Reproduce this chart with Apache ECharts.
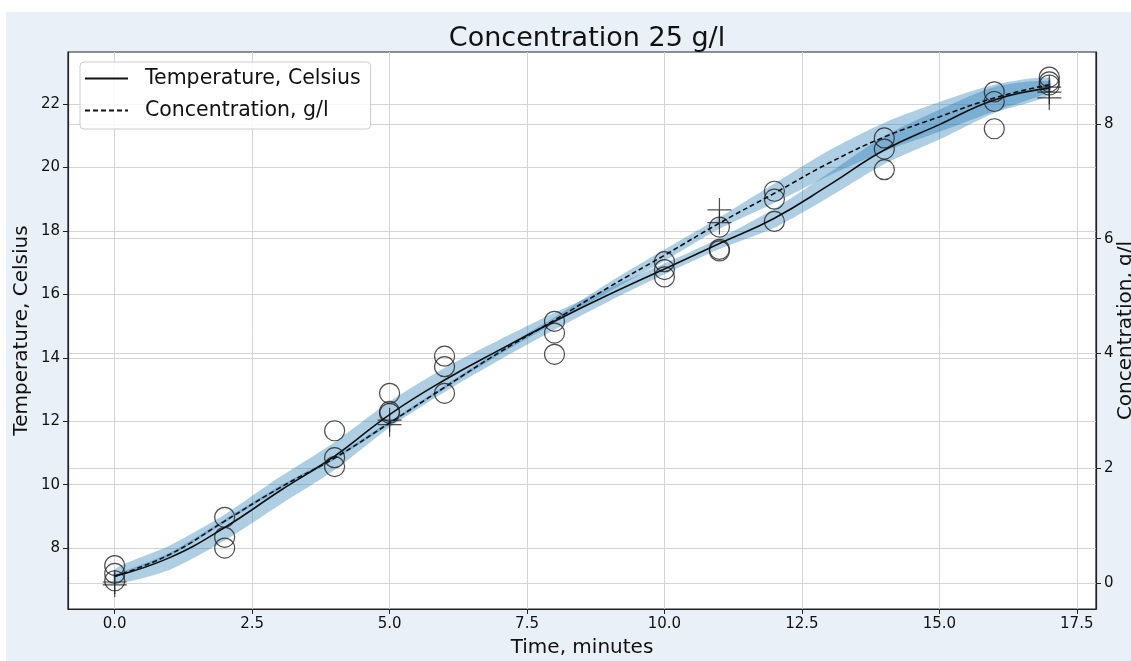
<!DOCTYPE html>
<html>
<head>
<meta charset="utf-8">
<script src="https://cdn.jsdelivr.net/npm/echarts@6/dist/echarts.min.js"></script>
<style>
    html, body { margin: 0; padding: 0; background: #ffffff; }
    #main { position: absolute; left: 6px; top: 12px; width: 1125px; height: 649px; background: #eaf0f8; }
</style>
</head>
<body>
<div id="main"></div>
<script>
// fitted curves, one point per minute
var fitTime = [0, 1, 2, 3, 4, 5, 6, 7, 8, 9, 10, 11, 12, 13, 14, 15, 16, 17];
var tempFit = [7.11, 7.7, 8.65, 9.8, 10.9, 12.21, 13.3, 14.25, 15.15, 16.0, 16.8, 17.6, 18.4, 19.45, 20.55, 21.35, 22.13, 22.5];
var concFit = [0.12, 0.5, 1.08, 1.66, 2.18, 2.79, 3.41, 4.02, 4.58, 5.16, 5.71, 6.27, 6.79, 7.32, 7.77, 8.12, 8.45, 8.68];
// half width of the shaded bands
var tempBand = [0.22, 0.38, 0.41, 0.44, 0.44, 0.41, 0.38, 0.32, 0.27, 0.21, 0.17, 0.17, 0.3, 0.38, 0.44, 0.47, 0.41, 0.22];
var concBand = [0.02, 0.03, 0.03, 0.03, 0.03, 0.03, 0.03, 0.04, 0.05, 0.08, 0.1, 0.1, 0.17, 0.22, 0.25, 0.26, 0.23, 0.12];

// measured temperature (circles)
var tempPoints = [
    [0, 7.45], [0, 7.2], [0, 6.97],
    [2, 8.97], [2, 8.34], [2, 8.0],
    [4, 11.7], [4, 10.85], [4, 10.57],
    [5, 12.88], [5, 12.31], [5, 12.25],
    [6, 14.05], [6, 13.72], [6, 12.88],
    [8, 15.15], [8, 14.78], [8, 14.11],
    [10, 17.03], [10, 16.78], [10, 16.55],
    [11, 18.12], [11, 17.42], [11, 17.37],
    [12, 19.25], [12, 19.0], [12, 18.3],
    [14, 20.93], [14, 20.58], [14, 19.93],
    [16, 22.38], [16, 22.08], [16, 21.22],
    [17, 22.85], [17, 22.7], [17, 22.6]
];
// measured concentration (plus markers)
var concPoints = [
    [0, 0.02], [0, -0.03],
    [5, 2.84], [5, 2.76],
    [11, 6.5], [11, 6.28],
    [17, 8.64], [17, 8.55], [17, 8.45]
];

var xTicks = [0, 2.5, 5, 7.5, 10, 12.5, 15, 17.5];
var tempTicks = [8, 10, 12, 14, 16, 18, 20, 22];
var concTicks = [0, 2, 4, 6, 8];

function pairs(xs, ys) {
    var out = [];
    for (var i = 0; i < xs.length; i++) out.push([xs[i], ys[i]]);
    return out;
}
// shaded band: upper edge forward, lower edge back
function bandRenderer(fit, band) {
    return function (params, api) {
        var pts = [];
        for (var i = 0; i < fit.length; i++) pts.push(api.coord([fitTime[i], fit[i] + band[i]]));
        for (var j = fit.length - 1; j >= 0; j--) pts.push(api.coord([fitTime[j], fit[j] - band[j]]));
        return {
            type: 'polygon',
            shape: { points: pts, smooth: 0.25 },
            style: { fill: bandColor },
            silent: true
        };
    };
}

var font = 'DejaVu Sans';
var chart = echarts.init(document.getElementById('main'));
var bandColor = 'rgba(31,119,180,0.36)';
var gridLine = { show: true, lineStyle: { color: '#d4d4d4', width: 1 } };
var dashIcon = 'path://M0,0h5v2h-5z M8,0h5v2h-5z M16,0h5v2h-5z M24,0h5v2h-5z M32,0h5v2h-5z M40,0h3v2h-3z';

var option = {
    animation: false,
    title: {
        text: 'Concentration 25 g/l',
        left: 576, top: 8, textAlign: 'center',
        textStyle: { fontFamily: font, fontSize: 27, fontWeight: 'normal', color: '#111' }
    },
    legend: {
        orient: 'vertical',
        left: 74, top: 50,
        data: [
            { name: 'Temperature, Celsius', icon: 'rect' },
            { name: 'Concentration, g/l', icon: dashIcon }
        ],
        itemWidth: 43, itemHeight: 2, itemGap: 11,
        padding: [6, 10, 8, 5],
        backgroundColor: 'rgba(255,255,255,0.85)',
        borderColor: '#cccccc', borderWidth: 1, borderRadius: 4,
        itemStyle: { color: '#111', borderWidth: 0 },
        lineStyle: { width: 0 },
        textStyle: { fontFamily: font, fontSize: 20.5, color: '#111', padding: [0, 0, 0, 12] }
    },
    grid: {
        left: 62, right: 35, top: 40, bottom: 52,
        containLabel: false, outerBoundsMode: 'none',
        show: true, backgroundColor: '#ffffff', borderColor: '#222', borderWidth: 1.2
    },
    xAxis: {
        type: 'value', min: -0.85, max: 17.85,
        name: 'Time, minutes', nameLocation: 'middle', nameGap: 29, nameMoveOverlap: false,
        nameTextStyle: { fontFamily: font, fontSize: 20, color: '#111' },
        axisLine: { onZero: false, lineStyle: { color: '#222', width: 1.2 } },
        axisTick: { customValues: xTicks, length: 5, lineStyle: { color: '#222' } },
        axisLabel: {
            customValues: xTicks, margin: 8,
            fontFamily: font, fontSize: 15, color: '#111',
            formatter: function (v) { return v.toFixed(1); }
        },
        splitLine: gridLine
    },
    yAxis: [{
        type: 'value', min: 6.08, max: 23.64,
        name: 'Temperature, Celsius', nameLocation: 'middle', nameGap: 36, nameRotate: 90, nameMoveOverlap: false,
        nameTextStyle: { fontFamily: font, fontSize: 20, color: '#111' },
        axisLine: { show: true, onZero: false, lineStyle: { color: '#222', width: 1.2 } },
        axisTick: { show: true, customValues: tempTicks, length: 5, lineStyle: { color: '#222' } },
        axisLabel: { customValues: tempTicks, margin: 8, fontFamily: font, fontSize: 15, color: '#111' },
        splitLine: gridLine
    }, {
        type: 'value', min: -0.45, max: 9.25, position: 'right',
        name: 'Concentration, g/l', nameLocation: 'middle', nameGap: 20, nameRotate: 90, nameMoveOverlap: false,
        nameTextStyle: { fontFamily: font, fontSize: 20, color: '#111' },
        axisLine: { show: true, onZero: false, lineStyle: { color: '#222', width: 1.2 } },
        axisTick: { show: true, customValues: concTicks, length: 5, lineStyle: { color: '#222' } },
        axisLabel: { customValues: concTicks, margin: 8, fontFamily: font, fontSize: 15, color: '#111' },
        splitLine: gridLine
    }],
    series: [
        {
            name: 'tempBand', type: 'custom', yAxisIndex: 0,
            data: [[0, tempFit[0]]], renderItem: bandRenderer(tempFit, tempBand), silent: true
        },
        {
            name: 'concBand', type: 'custom', yAxisIndex: 1,
            data: [[0, concFit[0]]], renderItem: bandRenderer(concFit, concBand), silent: true
        },
        {
            name: 'Temperature, Celsius', type: 'line', yAxisIndex: 0,
            data: pairs(fitTime, tempFit), smooth: 0.45, symbol: 'none',
            lineStyle: { color: '#111', width: 1.6 }, itemStyle: { color: '#111' }
        },
        {
            name: 'Concentration, g/l', type: 'line', yAxisIndex: 1,
            data: pairs(fitTime, concFit), smooth: 0.45, symbol: 'none',
            lineStyle: { color: '#111', width: 1.6, type: [5, 3] }, itemStyle: { color: '#111' }
        },
        {
            name: 'tempMeasured', type: 'scatter', yAxisIndex: 0,
            data: tempPoints, symbol: 'circle', symbolSize: 20,
            itemStyle: { color: 'rgba(0,0,0,0)', borderColor: '#222', borderWidth: 1.2 }
        },
        {
            name: 'concMeasured', type: 'scatter', yAxisIndex: 1,
            data: concPoints, symbol: 'path://M10,0 L10,20 M0,10 L20,10', symbolSize: 24,
            itemStyle: { color: 'rgba(0,0,0,0)', borderColor: '#222', borderWidth: 1.2 }
        }
    ]
};
chart.setOption(option);
</script>
</body>
</html>
